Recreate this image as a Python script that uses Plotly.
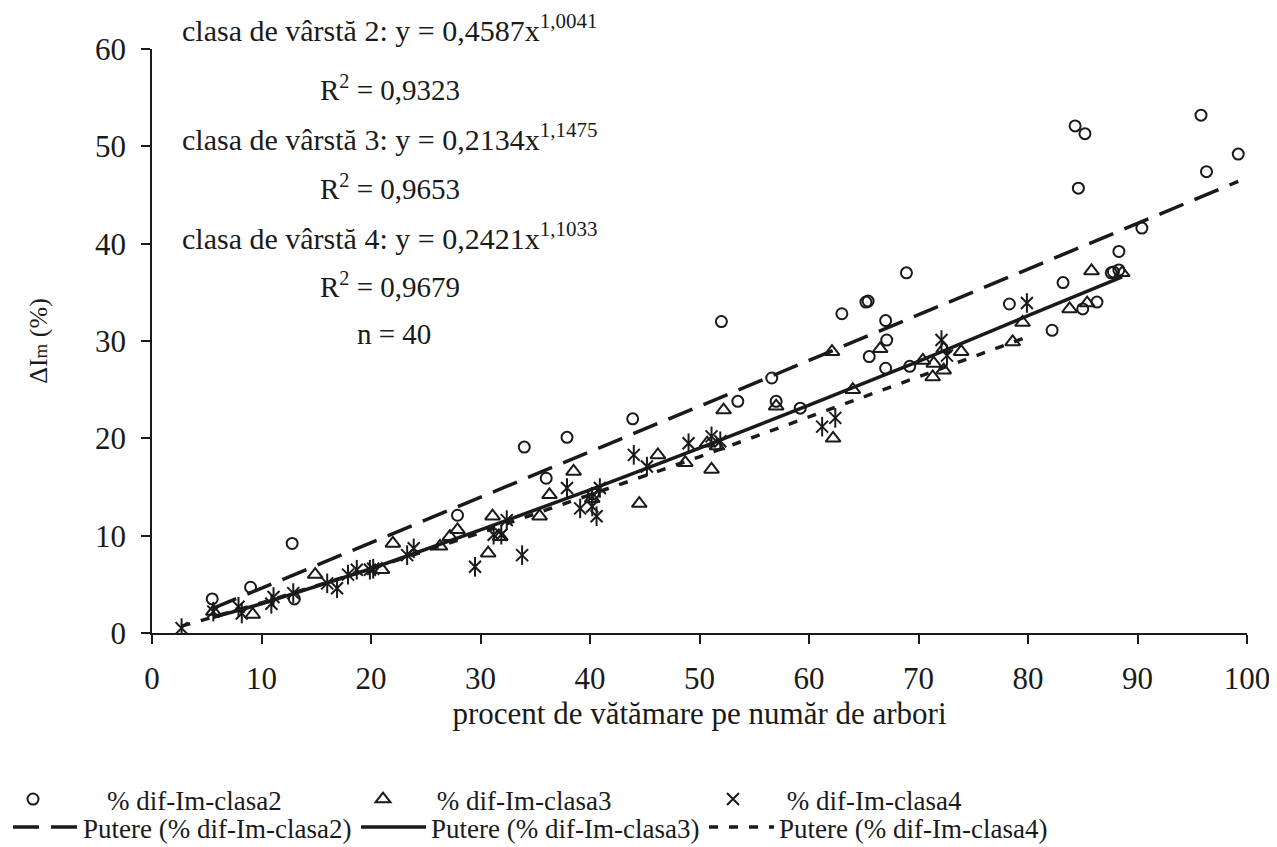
import plotly.graph_objects as go

# ---- data ----
c2_x = [5.5, 9.0, 12.8, 13.0, 27.9, 34.0, 36.0, 37.9, 43.9, 52.0, 53.5, 56.6, 57.0, 59.2,
        63.0, 65.2, 65.4, 65.5, 67.0, 67.1, 67.0, 68.9, 69.2, 78.3, 82.2, 83.2, 84.3, 84.6,
        85.0, 85.2, 86.3, 87.6, 87.8, 88.3, 88.3, 90.4, 95.8, 96.3, 99.2, 40.3]
c2_y = [3.5, 4.7, 9.2, 3.5, 12.1, 19.1, 15.9, 20.1, 22.0, 32.0, 23.8, 26.2, 23.8, 23.1,
        32.8, 34.0, 34.1, 28.4, 32.1, 30.1, 27.2, 37.0, 27.4, 33.8, 31.1, 36.0, 52.1, 45.7,
        33.3, 51.3, 34.0, 37.0, 37.1, 37.3, 39.2, 41.6, 53.2, 47.4, 49.2, 14.3]

c3_x = [5.6, 9.2, 14.9, 21.0, 22.0, 26.3, 27.2, 27.9, 30.7, 31.1, 31.8, 35.4, 36.3, 38.5,
        40.2, 44.5, 46.2, 48.7, 50.7, 51.1, 51.6, 52.2, 57.0, 62.1, 62.2, 64.0, 66.5, 70.4,
        71.4, 71.3, 72.3, 72.3, 73.9, 78.6, 79.5, 83.8, 85.4, 85.8, 88.6]
c3_y = [2.2, 1.9, 6.0, 6.5, 9.2, 8.9, 9.9, 10.6, 8.2, 12.0, 9.9, 12.0, 14.2, 16.6,
        13.8, 13.3, 18.3, 17.5, 19.5, 16.8, 19.2, 22.9, 23.3, 28.9, 20.0, 25.0, 29.2, 28.0,
        27.7, 26.3, 27.0, 29.2, 28.9, 29.9, 31.9, 33.3, 33.9, 37.2, 37.0]

c4_x = [2.7, 5.6, 7.9, 8.2, 10.9, 11.1, 12.9, 16.0, 16.9, 17.9, 18.7, 19.9, 20.2, 23.3,
        23.9, 29.5, 31.2, 31.9, 32.4, 33.8, 37.9, 39.1, 40.2, 40.6, 40.9, 40.2, 44.0, 45.2,
        49.0, 51.1, 51.9, 61.2, 62.4, 72.1, 72.6, 79.9]
c4_y = [0.5, 2.2, 2.7, 2.0, 3.0, 3.7, 4.1, 5.1, 4.6, 6.0, 6.5, 6.5, 6.6, 8.0,
        8.7, 6.8, 10.1, 10.1, 11.6, 8.0, 14.9, 12.8, 13.0, 12.0, 14.9, 14.0, 18.3, 17.1,
        19.5, 20.2, 19.7, 21.2, 22.1, 30.1, 28.5, 33.9]

# power trend lines
t2_x = [5.5, 10, 20, 30, 40, 50, 60, 70, 80, 90, 99.2]
t2_y = [2.5, 4.6, 9.3, 13.9, 18.6, 23.3, 28.0, 32.7, 37.4, 42.1, 46.4]
t3_x = [5.6, 10, 20, 30, 40, 50, 60, 70, 80, 88.6]
t3_y = [1.6, 3.0, 6.6, 10.6, 14.7, 19.0, 23.4, 27.9, 32.6, 36.6]
t4_x = [2.7, 10, 20, 30, 40, 50, 60, 70, 79.9]
t4_y = [0.7, 3.1, 6.6, 10.3, 14.2, 18.1, 22.2, 26.3, 30.4]

x_ticks = [0, 10, 20, 30, 40, 50, 60, 70, 80, 90, 100]
y_ticks = [0, 10, 20, 30, 40, 50, 60]

eq_lines = [
    "clasa de vârstă 2: y = 0,4587x<sup>1,0041</sup>",
    "R<sup>2</sup> = 0,9323",
    "clasa de vârstă 3: y = 0,2134x<sup>1,1475</sup>",
    "R<sup>2</sup> = 0,9653",
    "clasa de vârstă 4: y = 0,2421x<sup>1,1033</sup>",
    "R<sup>2</sup> = 0,9679",
    "n = 40",
]

FONT = "Liberation Serif"
BLACK = "#1a1a1a"
NB = "\u00a0"

# ---- layout geometry (page pixels; the page body adds an 8 px offset) ----
OFF = 8
PAGE_W, PAGE_H = 1277, 847
PL, PR, PT, PB = 152, 1247, 49, 633          # plot area in page pixels
W, H = PAGE_W - OFF, PAGE_H - OFF
PW, PH = PR - PL, PB - PT


def px_x(px):
    return (px - PL) / PW


def px_y(py):
    return (PB - py) / PH


fig = go.Figure()

fig.add_trace(go.Scatter(
    x=c2_x, y=c2_y, mode="markers", name=NB * 8 + "% dif-Im-clasa2", legend="legend",
    marker=dict(symbol="circle-open", size=11, color=BLACK, line=dict(width=2, color=BLACK)),
))
fig.add_trace(go.Scatter(
    x=c3_x, y=c3_y, mode="markers", name=NB * 5 + "% dif-Im-clasa3", legend="legend",
    marker=dict(symbol="triangle-up-open", size=13, color=BLACK, line=dict(width=2, color=BLACK)),
))
fig.add_trace(go.Scatter(
    x=c4_x, y=c4_y, mode="markers", name=NB * 5 + "% dif-Im-clasa4", legend="legend",
    marker=dict(symbol="x-thin-open", size=12, color=BLACK, line=dict(width=2, color=BLACK)),
))
fig.add_trace(go.Scatter(
    x=c4_x, y=c4_y, mode="markers", showlegend=False, hoverinfo="skip",
    marker=dict(symbol="line-ns-open", size=14, color=BLACK, line=dict(width=2, color=BLACK)),
))
fig.add_trace(go.Scatter(
    x=t2_x, y=t2_y, mode="lines", name="Putere (% dif-Im-clasa2)", legend="legend2",
    line=dict(color=BLACK, width=3.5, dash="26px,12px"),
))
fig.add_trace(go.Scatter(
    x=t3_x, y=t3_y, mode="lines", name="Putere (% dif-Im-clasa3)", legend="legend2",
    line=dict(color=BLACK, width=3.5),
))
fig.add_trace(go.Scatter(
    x=t4_x, y=t4_y, mode="lines", name="Putere (% dif-Im-clasa4)", legend="legend2",
    line=dict(color=BLACK, width=3.5, dash="9px,11px"),
))

ann_pos = [(180, 28, 30), (318, 88, 29), (180, 137, 30), (318, 187, 29),
           (180, 236, 30), (318, 285, 29), (355, 334, 29)]
for txt, (ax_, ay_, fs) in zip(eq_lines, ann_pos):
    fig.add_annotation(
        x=px_x(ax_), y=px_y(ay_), xref="paper", yref="paper", text=txt, showarrow=False,
        xanchor="left", yanchor="middle", font=dict(family=FONT, size=fs, color=BLACK),
    )

legend_common = dict(
    orientation="h", xanchor="left", yanchor="top", entrywidthmode="pixels",
    font=dict(family=FONT, size=27, color=BLACK), tracegroupgap=0,
    bgcolor="rgba(0,0,0,0)", itemclick=False, itemdoubleclick=False,
)

fig.update_layout(
    width=W, height=H,
    margin=dict(l=PL - OFF, r=PAGE_W - PR, t=PT - OFF, b=PAGE_H - PB, autoexpand=False),
    paper_bgcolor="white", plot_bgcolor="white",
    font=dict(family=FONT, color=BLACK, size=27),
    showlegend=True,
    legend=dict(x=px_x(13), y=px_y(775), entrywidth=305, itemwidth=30, **legend_common),
    legend2=dict(x=px_x(8), y=px_y(803), entrywidth=268, itemwidth=65, **legend_common),
    xaxis=dict(
        range=[0, 100], tickvals=x_ticks, ticktext=[str(v) for v in x_ticks],
        showgrid=False, zeroline=False, showline=True, linecolor=BLACK, linewidth=1.5,
        ticks="outside", ticklen=9, tickcolor=BLACK, tickwidth=1.5,
        tickfont=dict(family=FONT, size=31, color=BLACK), ticklabelstandoff=8,
        title=dict(text="procent de vătămare pe număr de arbori",
                   font=dict(family=FONT, size=31, color=BLACK), standoff=0),
        automargin=False,
    ),
    yaxis=dict(
        range=[0, 60], tickvals=y_ticks, ticktext=[str(v) for v in y_ticks],
        showgrid=False, zeroline=False, showline=True, linecolor=BLACK, linewidth=1.5,
        ticks="outside", ticklen=9, tickcolor=BLACK, tickwidth=1.5,
        tickfont=dict(family=FONT, size=31, color=BLACK), ticklabelstandoff=9,
        title=dict(text="ΔI<span style='font-size:19px'>m</span> (%)",
                   font=dict(family=FONT, size=26, color=BLACK), standoff=40),
        automargin=False,
    ),
)

fig.write_html("out.html")
